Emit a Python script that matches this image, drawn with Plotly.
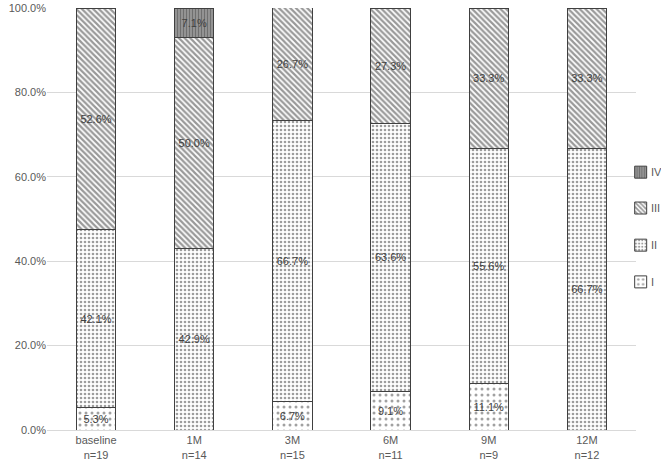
import plotly.graph_objects as go

categories = ["baseline<br>n=19", "1M<br>n=14", "3M<br>n=15", "6M<br>n=11", "9M<br>n=9", "12M<br>n=12"]
grade_I = [5.3, None, 6.7, 9.1, 11.1, None]
grade_II = [42.1, 42.9, 66.7, 63.6, 55.6, 66.7]
grade_III = [52.6, 50.0, 26.7, 27.3, 33.3, 33.3]
grade_IV = [None, 7.1, None, None, None, None]
legend_names = ["IV", "III", "II", "I"]

series = [
    ("I", grade_I, dict(shape=".", fgcolor="#444444", bgcolor="white", size=6, solidity=0.2), "legend4"),
    ("II", grade_II, dict(shape=".", fgcolor="#3c3c3c", bgcolor="white", size=4, solidity=0.35), "legend3"),
    ("III", grade_III, dict(shape="\\", fgcolor="#333333", bgcolor="white", size=4, solidity=0.55), "legend2"),
    ("IV", grade_IV, dict(shape="|", fgcolor="#444444", bgcolor="#9a9a9a", size=3, solidity=0.45), "legend"),
]

fig = go.Figure()
for name, vals, pat, leg in series:
    y = [None if v is None else v / 100 for v in vals]
    txt = ["" if v is None else f"{v:.1f}%" for v in vals]
    fig.add_trace(go.Bar(
        x=categories, y=y, name="", text=txt,
        hovertemplate=name + ": %{y:.1%}<extra></extra>",
        textposition="inside", insidetextanchor="middle", textangle=0,
        constraintext="none",
        textfont=dict(family="Liberation Sans, Arial", size=11, color="#404040"),
        marker=dict(color="white", pattern=pat, line=dict(color="#404040", width=1)),
        legend=leg, showlegend=True,
    ))

# legend rows (page px -> paper y)
leg_y = [0.611, 0.526, 0.438, 0.351]
leg_keys = ["legend", "legend2", "legend3", "legend4"]
legend_layout = {}
for key, yy in zip(leg_keys, leg_y):
    legend_layout[key] = dict(
        x=0.974, y=yy, xanchor="left", yanchor="middle",
        font=dict(size=11, color="#595959"),
        bgcolor="rgba(0,0,0,0)", itemwidth=30,
    )

annotations = [
    dict(text=n, x=1.022, y=yy, xref="paper", yref="paper", xanchor="left", yanchor="middle",
         showarrow=False, font=dict(size=11, color="#595959"))
    for n, yy in zip(legend_names, leg_y)
]

fig.update_layout(
    barmode="stack",
    bargap=0.6,
    showlegend=True,
    width=661, height=462,
    margin=dict(l=47, r=25, t=8, b=32, autoexpand=False),
    plot_bgcolor="white", paper_bgcolor="white",
    font=dict(family="Liberation Sans, Arial", size=11, color="#595959"),
    annotations=annotations,
    xaxis=dict(showline=True, linecolor="#d9d9d9", linewidth=1, ticks="",
               tickfont=dict(size=11, color="#595959")),
    yaxis=dict(range=[0, 1], dtick=0.2, tickformat=".1%", showgrid=True,
               gridcolor="#d9d9d9", gridwidth=1, zeroline=False, showline=False,
               tickfont=dict(size=11, color="#595959")),
    **legend_layout,
)

fig.write_html("out.html", config={"displayModeBar": False},
               post_script="document.body.style.margin='0';")
